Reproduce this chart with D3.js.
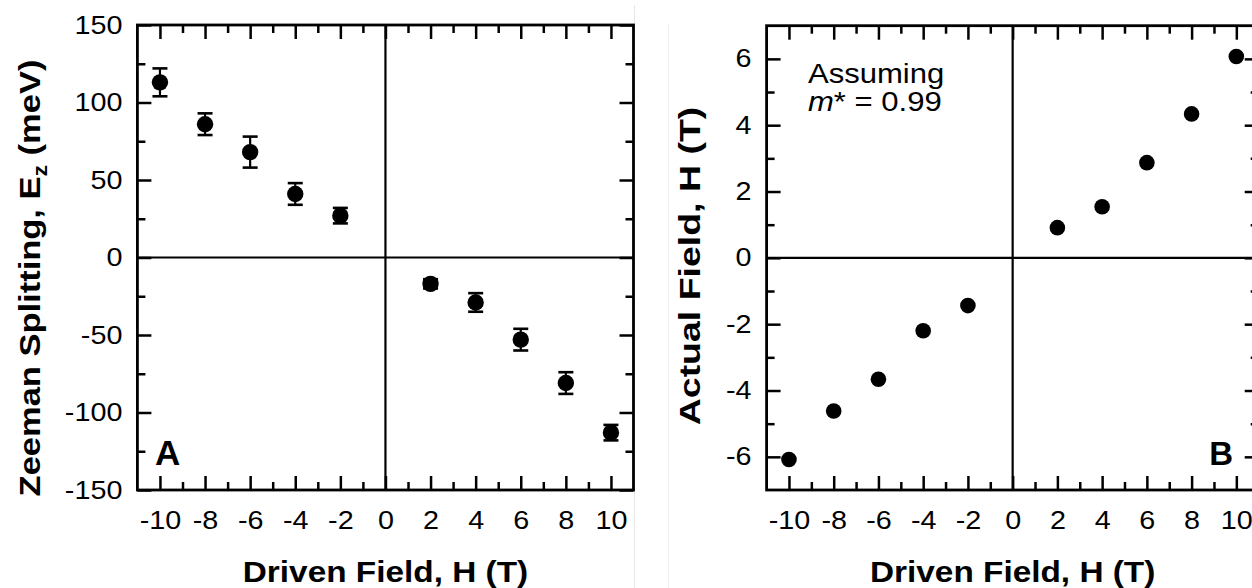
<!DOCTYPE html>
<html>
<head>
<meta charset="utf-8">
<script src="https://cdn.jsdelivr.net/npm/d3@7"></script>
<style>
  body { margin: 0; background: #fff; }
  svg { display: block; font-family: "Liberation Sans", Arial, sans-serif; }
</style>
</head>
<body>
<svg id="chart" width="1252" height="588"></svg>
<script>
// driven field values (T)
const drivenField = [-10, -8, -6, -4, -2, 2, 4, 6, 8, 10];
// panel A: Zeeman splitting (meV) with error
const zeemanSplit = [113, 86, 68, 41, 27, -17, -29, -53, -81, -113];
const zeemanErr = [9, 7, 10, 7, 5, 3, 6, 7, 7, 5];
// panel B: actual field (T)
const actualField = [-6.08, -4.62, -3.66, -2.2, -1.44, 0.91, 1.54, 2.87, 4.34, 6.07];

const xMajor = [-10, -8, -6, -4, -2, 0, 2, 4, 6, 8, 10];
const xMinor = [-9, -7, -5, -3, -1, 1, 3, 5, 7, 9];
const yMajorA = [-150, -100, -50, 0, 50, 100, 150];
const yMinorA = [-125, -75, -25, 25, 75, 125];
const yMajorB = [-6, -4, -2, 0, 2, 4, 6];
const yMinorB = [-5, -3, -1, 1, 3, 5];

const svg = d3.select("#chart");
const stretch = 1.15;

// faint edges of the pasted images
svg.append("line").attr("x1", 634.5).attr("x2", 634.5).attr("y1", 5).attr("y2", 588)
  .attr("stroke", "#e6e6e6").attr("stroke-width", 1);
svg.append("line").attr("x1", 668.5).attr("x2", 668.5).attr("y1", 24).attr("y2", 588)
  .attr("stroke", "#f0f0f0").attr("stroke-width", 1);

function panel(cfg) {
  const x = d3.scaleLinear().domain([-11, 11]).range([cfg.left, cfg.right]);
  const y = d3.scaleLinear().domain(cfg.yDomain).range([490, cfg.top]);
  const g = svg.append("g");

  function axis(a, transform, size, values, labels, pad) {
    const ax = g.append("g")
      .attr("transform", transform)
      .call(a.tickValues(values).tickSizeInner(-size).tickSizeOuter(0)
        .tickPadding(pad || 0)
        .tickFormat(labels ? (d => String(d)) : ""));
    ax.select(".domain").remove();
    ax.selectAll("line").attr("stroke", "#000").attr("stroke-width", 2.5);
    return ax;
  }

  const bottom = axis(d3.axisBottom(x), `translate(0,490)`, 14, xMajor, true, 21);
  axis(d3.axisBottom(x), `translate(0,490)`, 8, xMinor, false);
  axis(d3.axisTop(x), `translate(0,${cfg.top})`, 14, xMajor, false);
  axis(d3.axisTop(x), `translate(0,${cfg.top})`, 8, xMinor, false);
  const left = axis(d3.axisLeft(y), `translate(${cfg.left},0)`, 14, cfg.yMajor, true, 15);
  axis(d3.axisLeft(y), `translate(${cfg.left},0)`, 8, cfg.yMinor, false);
  axis(d3.axisRight(y), `translate(${cfg.right},0)`, 14, cfg.yMajor, false);
  axis(d3.axisRight(y), `translate(${cfg.right},0)`, 8, cfg.yMinor, false);

  bottom.selectAll("text").attr("font-size", 25).attr("fill", "#000")
    .attr("font-family", "Liberation Sans, Arial, sans-serif")
    .attr("transform", `scale(${stretch},1)`);
  left.selectAll("text").attr("font-size", 25).attr("fill", "#000")
    .attr("font-family", "Liberation Sans, Arial, sans-serif")
    .attr("x", -15 / stretch)
    .attr("transform", `scale(${stretch},1)`);

  // frame
  g.append("rect").attr("x", cfg.left).attr("y", cfg.top)
    .attr("width", cfg.right - cfg.left).attr("height", 490 - cfg.top)
    .attr("fill", "none").attr("stroke", "#000").attr("stroke-width", 2.8);
  // zero lines
  g.append("line").attr("x1", cfg.left).attr("x2", cfg.right)
    .attr("y1", y(0)).attr("y2", y(0)).attr("stroke", "#000").attr("stroke-width", 2.2);
  g.append("line").attr("x1", x(0)).attr("x2", x(0))
    .attr("y1", cfg.top).attr("y2", 490).attr("stroke", "#000").attr("stroke-width", 2.2);

  // error bars
  if (cfg.err) {
    const eb = g.selectAll(".eb").data(drivenField).join("g").attr("class", "eb");
    eb.append("line")
      .attr("x1", d => x(d)).attr("x2", d => x(d))
      .attr("y1", (d, i) => y(cfg.values[i] + cfg.err[i]))
      .attr("y2", (d, i) => y(cfg.values[i] - cfg.err[i]))
      .attr("stroke", "#000").attr("stroke-width", 2.2);
    [1, -1].forEach(s => {
      eb.append("line")
        .attr("x1", d => x(d) - 7.5).attr("x2", d => x(d) + 7.5)
        .attr("y1", (d, i) => y(cfg.values[i] + s * cfg.err[i]))
        .attr("y2", (d, i) => y(cfg.values[i] + s * cfg.err[i]))
        .attr("stroke", "#000").attr("stroke-width", 2.6);
    });
  }

  g.selectAll(".dot").data(drivenField).join("circle").attr("class", "dot")
    .attr("cx", d => x(d)).attr("cy", (d, i) => y(cfg.values[i]))
    .attr("r", cfg.r).attr("fill", "#000");

  // x title
  g.append("text").attr("transform", `translate(${x(0)},582) scale(${stretch},1)`)
    .attr("text-anchor", "middle").attr("font-size", 29).attr("font-weight", "bold")
    .text("Driven Field, H (T)");

  return { g, x, y };
}

// Panel A
const A = panel({ left: 137.4, right: 633.5, top: 25, yDomain: [-150, 150],
  yMajor: yMajorA, yMinor: yMinorA, values: zeemanSplit, err: zeemanErr, r: 8.2 });

const ta = A.g.append("text")
  .attr("transform", `translate(40,278) rotate(-90) scale(${stretch},1)`)
  .attr("text-anchor", "middle").attr("font-size", 30).attr("font-weight", "bold");
ta.append("tspan").text("Zeeman Splitting, E");
ta.append("tspan").attr("font-size", 20).attr("dy", 7).text("z");
ta.append("tspan").attr("dy", -7).text(" (meV)");

A.g.append("text").attr("x", 155).attr("y", 465)
  .attr("font-size", 35).attr("font-weight", "bold").text("A");

// Panel B
const B = panel({ left: 766.6, right: 1258.7, top: 25.7, yDomain: [-7, 7],
  yMajor: yMajorB, yMinor: yMinorB, values: actualField, err: null, r: 7.8 });

B.g.append("text")
  .attr("transform", `translate(700,266) rotate(-90) scale(1.25,1)`)
  .attr("text-anchor", "middle").attr("font-size", 30).attr("font-weight", "bold")
  .text("Actual Field, H (T)");

B.g.append("text").attr("x", 1233).attr("y", 465).attr("text-anchor", "end")
  .attr("font-size", 33).attr("font-weight", "bold").text("B");

B.g.append("text").attr("transform", `translate(808,83) scale(${stretch},1)`)
  .attr("font-size", 27).text("Assuming");
const mt = B.g.append("text").attr("transform", `translate(808,111) scale(${stretch},1)`)
  .attr("font-size", 27);
mt.append("tspan").attr("font-style", "italic").text("m");
mt.append("tspan").text("* = 0.99");
</script>
</body>
</html>
